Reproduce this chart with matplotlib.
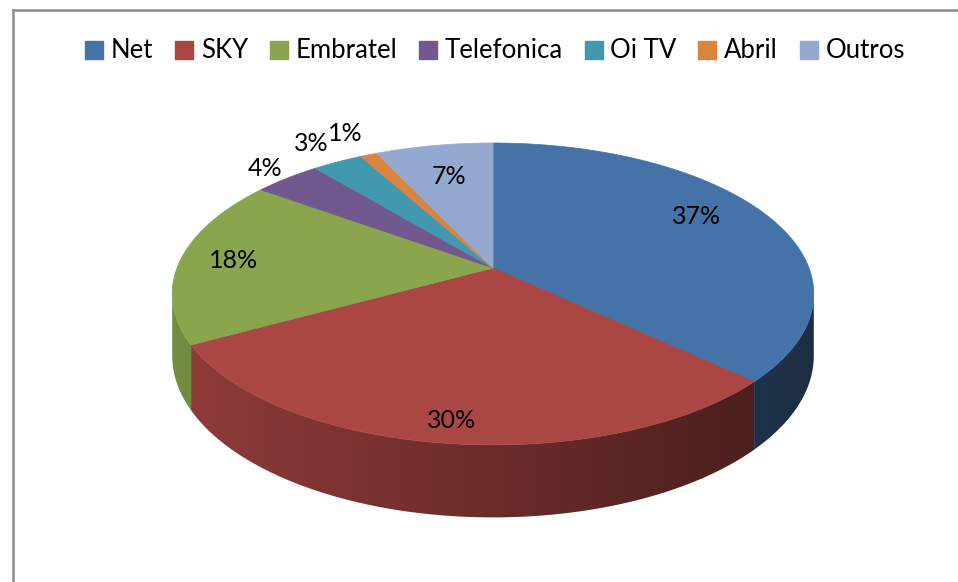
import numpy as np
import matplotlib
matplotlib.use("Agg")
import matplotlib.pyplot as plt
from matplotlib.patches import Patch, Polygon
from matplotlib.lines import Line2D

# --- data ---
labels = ["Net", "SKY", "Embratel", "Telefonica", "Oi TV", "Abril", "Outros"]
shares = [37, 30, 18, 4, 3, 1, 7]
colors = ["#4572A7", "#AA4643", "#89A54E", "#71588F", "#4198AF", "#DB843D", "#93A9CF"]

# label placement (fraction of radius, angle nudge in degrees), layout only
label_r = [0.78, 0.89, 0.83, 1.12, 1.2, 1.22, 0.72]
label_da = [-5, 0, 0, 0, 0, 0, 0]

plt.rcParams["font.family"] = ["Lato", "DejaVu Sans"]

# --- projection of the tilted disc (pixel-like data units) ---
CX, CY = 493, 268      # centre of top face
R, K = 316, 146.5      # horizontal / vertical half-axes
C = 0.172              # perspective strength
D = 60                 # thickness


def project(u, v, z=0.0):
    # u: right, v: towards viewer, z: depth below top face
    s = 1.0 / (1.0 - C * v)
    return CX + R * u * s, CY + K * v * s + z * s


def main():
    fig = plt.figure(figsize=(9.58, 5.82), dpi=100)
    ax = fig.add_axes([0, 0, 1, 1])
    ax.axis("off")

    vals = np.array(shares, dtype=float)
    frac = vals / vals.sum()
    edges = np.concatenate([[0], np.cumsum(frac)]) * 2 * np.pi  # clockwise from 12 o'clock

    # visible part of the side wall
    lo = np.arccos(-C)
    hi = 2 * np.pi - lo
    xs = np.linspace(150, 830, 400)
    shade = np.clip(0.63 - 0.22 * (xs - CX) / R, 0.3, 1.0)
    for i in range(len(vals)):
        a0, a1 = max(edges[i], lo), min(edges[i + 1], hi)
        if a1 <= a0:
            continue
        th = np.linspace(a0, a1, max(3, int(np.degrees(a1 - a0) * 2)) + 1)
        top = [project(np.sin(t), -np.cos(t)) for t in th]
        bot = [project(np.sin(t), -np.cos(t), D) for t in th][::-1]
        wall = Polygon(top + bot, closed=True, facecolor="none", edgecolor="none")
        ax.add_patch(wall)
        base = np.array(matplotlib.colors.to_rgb(colors[i]))
        img = (shade[:, None] * base[None, :])[None, :, :]
        im = ax.imshow(img, extent=(xs[0], xs[-1], 540, 250), aspect="auto",
                       interpolation="bilinear", zorder=1)
        im.set_clip_path(wall)

    # top faces
    for i in range(len(vals)):
        a0, a1 = edges[i], edges[i + 1]
        th = np.linspace(a0, a1, max(3, int(np.degrees(a1 - a0))) + 1)
        pts = [project(0, 0)] + [project(np.sin(t), -np.cos(t)) for t in th]
        ax.add_patch(Polygon(pts, closed=True, facecolor=colors[i], edgecolor=colors[i],
                             lw=0.5, zorder=2))

    # percentage labels
    for i in range(len(vals)):
        am = 0.5 * (edges[i] + edges[i + 1]) + np.radians(label_da[i])
        r = label_r[i]
        x, y = project(r * np.sin(am), -r * np.cos(am))
        ax.text(x, y, f"{shares[i]}%", ha="center", va="center", fontsize=18,
                color="black", zorder=3)

    ax.set_xlim(0, 958)
    ax.set_ylim(582, 0)

    # chart border (left and top only visible)
    fig.add_artist(Line2D([13 / 958, 13 / 958], [0, 1 - 10 / 582], transform=fig.transFigure,
                          color="#8c8c8c", lw=1.8))
    fig.add_artist(Line2D([13 / 958, 1], [1 - 10 / 582, 1 - 10 / 582], transform=fig.transFigure,
                          color="#8c8c8c", lw=1.8))

    handles = [Patch(facecolor=c, edgecolor=c) for c in colors]
    fig.legend(handles, labels, loc="center", bbox_to_anchor=(495 / 958, 1 - 51 / 582),
               ncol=len(labels), frameon=False, fontsize=18.5, handlelength=0.7,
               handleheight=0.7, handletextpad=0.3, columnspacing=0.85)

    fig.savefig("out.png", dpi=100)
    plt.close(fig)


if __name__ == "__main__":
    main()
